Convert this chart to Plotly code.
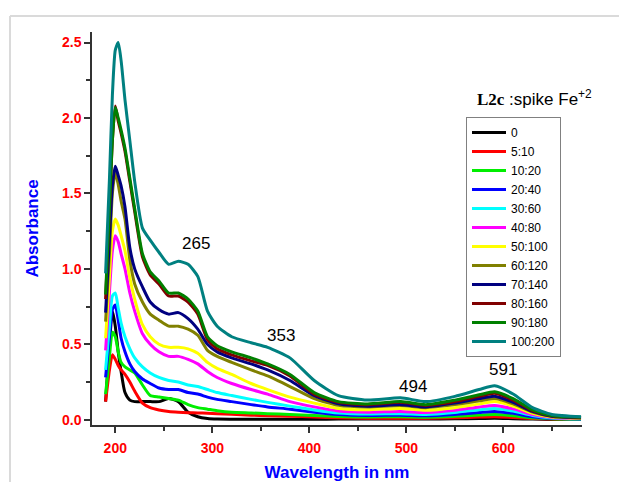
import plotly.graph_objects as go

wavelength = [190, 194, 197, 200, 203, 206, 210, 215, 220, 228, 236, 245, 255, 265, 275, 285, 295, 305,
              320, 340, 357, 380, 405, 430, 460, 494, 520, 550, 575, 591, 610, 630, 650, 680]

s_0 = [0.12, 0.50, 0.72, 0.62, 0.45, 0.32, 0.18, 0.13, 0.12, 0.12, 0.12, 0.12, 0.14, 0.12, 0.05, 0.02, 0.008, 0.004,
       0.003, 0.003, 0.003, 0.003, 0.003, 0.004, 0.005, 0.005, 0.004, 0.006, 0.008, 0.01, 0.007, 0.004, 0.002, 0.001]
s_5_10 = [0.12, 0.33, 0.43, 0.40, 0.36, 0.33, 0.30, 0.25, 0.19, 0.11, 0.08, 0.065, 0.055, 0.05, 0.047, 0.045, 0.043, 0.04,
          0.036, 0.03, 0.027, 0.023, 0.018, 0.013, 0.01, 0.01, 0.009, 0.013, 0.018, 0.02, 0.015, 0.008, 0.004, 0.002]
s_10_20 = [0.17, 0.42, 0.58, 0.55, 0.45, 0.38, 0.35, 0.33, 0.31, 0.23, 0.16, 0.15, 0.14, 0.13, 0.10, 0.08, 0.07, 0.06,
           0.05, 0.045, 0.04, 0.035, 0.028, 0.022, 0.018, 0.02, 0.017, 0.023, 0.031, 0.035, 0.027, 0.013, 0.006, 0.003]
s_20_40 = [0.28, 0.55, 0.73, 0.76, 0.66, 0.54, 0.45, 0.37, 0.32, 0.27, 0.24, 0.21, 0.20, 0.20, 0.18, 0.17, 0.15, 0.135,
           0.12, 0.10, 0.085, 0.07, 0.05, 0.035, 0.028, 0.03, 0.026, 0.035, 0.048, 0.055, 0.042, 0.02, 0.009, 0.005]
s_30_60 = [0.33, 0.62, 0.82, 0.84, 0.74, 0.64, 0.55, 0.47, 0.41, 0.35, 0.31, 0.28, 0.26, 0.25, 0.23, 0.22, 0.20, 0.18,
           0.16, 0.135, 0.115, 0.09, 0.065, 0.045, 0.038, 0.04, 0.035, 0.048, 0.066, 0.075, 0.057, 0.028, 0.012, 0.006]
s_40_80 = [0.46, 0.85, 1.12, 1.22, 1.18, 1.10, 1.00, 0.84, 0.72, 0.57, 0.50, 0.45, 0.42, 0.42, 0.40, 0.37, 0.32, 0.28,
           0.24, 0.20, 0.17, 0.12, 0.085, 0.058, 0.05, 0.055, 0.048, 0.062, 0.085, 0.095, 0.072, 0.035, 0.015, 0.008]
s_50_100 = [0.54, 0.95, 1.25, 1.33, 1.29, 1.22, 1.12, 0.94, 0.80, 0.63, 0.55, 0.50, 0.48, 0.48, 0.47, 0.44, 0.38, 0.34,
            0.30, 0.24, 0.20, 0.15, 0.11, 0.075, 0.066, 0.075, 0.063, 0.08, 0.105, 0.12, 0.09, 0.043, 0.018, 0.01]
s_60_120 = [0.65, 1.10, 1.50, 1.64, 1.56, 1.45, 1.33, 1.06, 0.90, 0.78, 0.70, 0.66, 0.62, 0.62, 0.60, 0.56, 0.46, 0.42,
            0.38, 0.33, 0.29, 0.22, 0.14, 0.095, 0.085, 0.095, 0.08, 0.10, 0.125, 0.14, 0.105, 0.05, 0.021, 0.012]
s_70_140 = [0.71, 1.20, 1.55, 1.68, 1.62, 1.55, 1.41, 1.14, 1.00, 0.88, 0.78, 0.73, 0.70, 0.71, 0.67, 0.60, 0.50, 0.45,
            0.41, 0.37, 0.33, 0.26, 0.16, 0.105, 0.09, 0.10, 0.085, 0.11, 0.14, 0.155, 0.115, 0.055, 0.023, 0.013]
s_80_160 = [0.80, 1.38, 1.85, 2.08, 1.98, 1.90, 1.78, 1.58, 1.38, 1.08, 0.96, 0.90, 0.82, 0.82, 0.78, 0.70, 0.53, 0.47,
            0.43, 0.39, 0.36, 0.29, 0.17, 0.115, 0.10, 0.115, 0.095, 0.12, 0.155, 0.175, 0.13, 0.06, 0.026, 0.015]
s_90_180 = [0.83, 1.40, 1.85, 2.07, 2.00, 1.92, 1.80, 1.60, 1.40, 1.10, 0.98, 0.92, 0.84, 0.84, 0.80, 0.72, 0.55, 0.49,
            0.45, 0.41, 0.37, 0.30, 0.18, 0.12, 0.105, 0.12, 0.10, 0.13, 0.165, 0.185, 0.14, 0.065, 0.028, 0.016]
s_100_200 = [0.97, 1.60, 2.15, 2.45, 2.50, 2.38, 2.12, 1.85, 1.58, 1.27, 1.19, 1.11, 1.03, 1.05, 1.03, 0.95, 0.72, 0.62,
             0.55, 0.51, 0.48, 0.41, 0.26, 0.16, 0.13, 0.145, 0.12, 0.155, 0.20, 0.225, 0.17, 0.08, 0.035, 0.02]

series_names = ["0", "5:10", "10:20", "20:40", "30:60", "40:80", "50:100", "60:120", "70:140", "80:160", "90:180", "100:200"]
series_values = [s_0, s_5_10, s_10_20, s_20_40, s_30_60, s_40_80, s_50_100, s_60_120, s_70_140, s_80_160, s_90_180, s_100_200]
series_colors = ["#000000", "#ff0000", "#00ee00", "#0000ff", "#00ffff", "#ff00ff", "#ffff00", "#808000",
                 "#000080", "#800000", "#008000", "#008080"]

peak_labels = ["265", "353", "494", "591"]
peak_label_x = [283, 371, 507, 600]
peak_label_y = [1.17, 0.56, 0.22, 0.33]

x_ticks = [200, 300, 400, 500, 600]
y_ticks = [0.0, 0.5, 1.0, 1.5, 2.0, 2.5]

FONT = "Arial, Liberation Sans, sans-serif"

# page is offset by the 8px body margin
W, H = 619, 474
ML, MR, MT, MB = 84, 45, 24, 57
PW, PH = W - ML - MR, H - MT - MB


def px_x(page_x):
    return (page_x - 8 - ML) / PW


def px_y(page_y):
    return (H - MB - (page_y - 8)) / PH


fig = go.Figure()
for name, vals, col in zip(series_names, series_values, series_colors):
    fig.add_trace(go.Scatter(x=wavelength, y=vals, mode="lines", name=name,
                             line=dict(color=col, width=3, shape="spline", smoothing=0.6)))

for t, x, y in zip(peak_labels, peak_label_x, peak_label_y):
    fig.add_annotation(x=x, y=y, text=t, showarrow=False,
                       font=dict(family=FONT, size=17, color="black"))

fig.add_annotation(xref="paper", yref="paper", x=px_x(475), y=px_y(111), xanchor="left", yanchor="bottom",
                   text="<span style='font-family:Liberation Serif, Times New Roman, serif'><b>L2c</b></span> :spike Fe<sup>+2</sup>",
                   showarrow=False, font=dict(family=FONT, size=17, color="black"))

# outer frame lines (screenshot border)
fig.add_shape(type="line", xref="paper", yref="paper", x0=px_x(10), x1=px_x(640),
              y0=px_y(16), y1=px_y(16), line=dict(color="#dadada", width=2))
fig.add_shape(type="line", xref="paper", yref="paper", x0=px_x(10), x1=px_x(10),
              y0=px_y(16), y1=px_y(500), line=dict(color="#dadada", width=2))

fig.update_layout(
    width=W, height=H,
    margin=dict(l=ML, r=MR, t=MT, b=MB, autoexpand=False),
    paper_bgcolor="white", plot_bgcolor="white",
    font=dict(family=FONT),
    legend=dict(x=px_x(466), y=px_y(117), xanchor="left", yanchor="top",
                bgcolor="white", bordercolor="#808080", borderwidth=1,
                font=dict(family=FONT, size=12, color="black"), itemwidth=34,
                tracegroupgap=0),
    showlegend=True,
)
fig.update_xaxes(range=[176, 681], tickvals=x_ticks, ticks="outside", ticklen=6, tickwidth=1.5,
                 tickcolor="#333", showline=True, linecolor="#333", linewidth=1.5, showgrid=False,
                 zeroline=False, automargin=False,
                 minor=dict(dtick=50, ticks="outside", ticklen=4, tickcolor="#333", tickwidth=1.5),
                 tickfont=dict(family=FONT, size=14, color="#ff0000", weight="bold"),
                 ticklabelstandoff=3,
                 title=dict(text="<b>Wavelength in nm</b>", font=dict(family=FONT, size=17, color="#0000ff"),
                            standoff=12))
fig.update_yaxes(range=[-0.035, 2.57], tickvals=y_ticks, tickformat=".1f", ticks="outside", ticklen=6,
                 tickwidth=1.5, tickcolor="#333", showline=True, linecolor="#333", linewidth=1.5,
                 showgrid=False, zeroline=False, automargin=False,
                 minor=dict(dtick=0.25, ticks="outside", ticklen=4, tickcolor="#333", tickwidth=1.5),
                 tickfont=dict(family=FONT, size=14, color="#ff0000", weight="bold"),
                 title=dict(text="<b>Absorbance</b>", font=dict(family=FONT, size=17, color="#0000ff"),
                            standoff=19))

fig.write_html("out.html")
